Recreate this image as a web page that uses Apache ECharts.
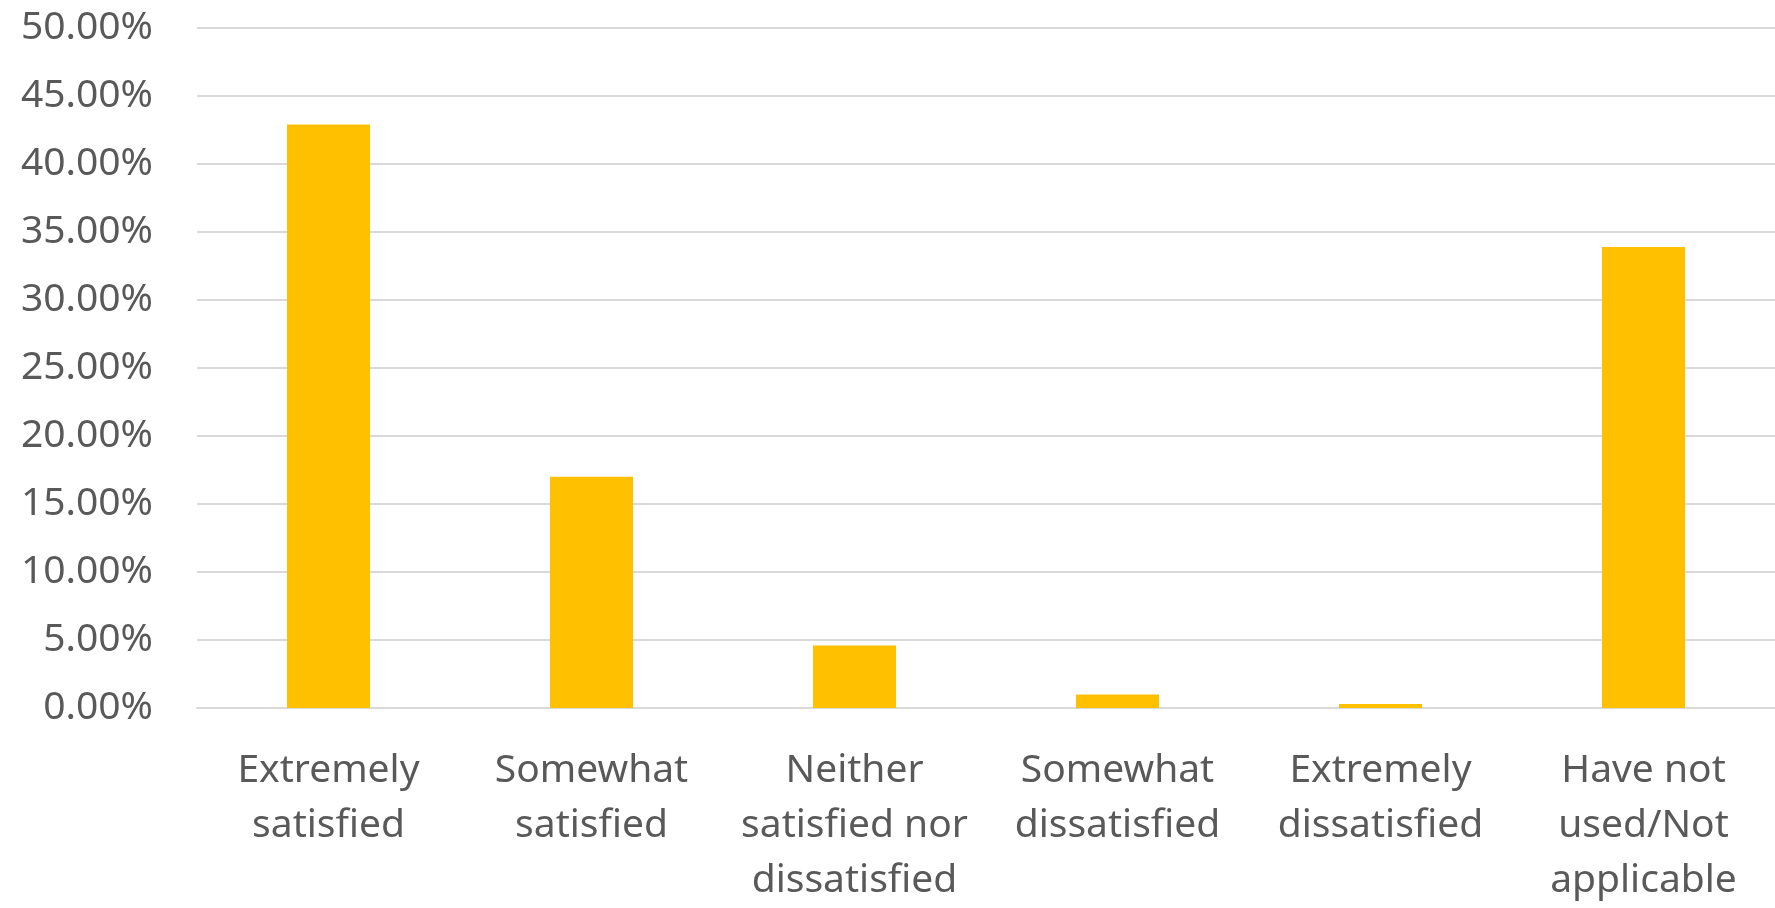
<!DOCTYPE html>
<html>
<head>
<meta charset="utf-8">
<script src="https://cdn.jsdelivr.net/npm/echarts@6/dist/echarts.min.js"></script>
<style>
html,body{margin:0;padding:0;background:#fff;}
#chart{width:1775px;height:908px;}
</style>
</head>
<body>
<div id="chart"></div>
<script>
const categories = [
  "Extremely\nsatisfied",
  "Somewhat\nsatisfied",
  "Neither\nsatisfied nor\ndissatisfied",
  "Somewhat\ndissatisfied",
  "Extremely\ndissatisfied",
  "Have not\nused/Not\napplicable"
];
const values = [42.9, 17.0, 4.6, 1.0, 0.3, 33.9];
const yMin = 0, yMax = 50, yStep = 5;

const chart = echarts.init(document.getElementById('chart'));
chart.setOption({
  animation: false,
  textStyle: { fontFamily: 'Noto Sans' },
  grid: { left: 197, right: 0, top: 28, bottom: 192, containLabel: false },
  xAxis: {
    type: 'category',
    data: categories,
    axisLine: { show: true, lineStyle: { color: '#D9D9D9', width: 2 } },
    axisTick: { show: false },
    axisLabel: { color: '#595959', fontSize: 39, lineHeight: 55, margin: 35, interval: 0, fontFamily: 'Noto Sans' }
  },
  yAxis: {
    type: 'value',
    min: yMin, max: yMax, interval: yStep,
    axisLine: { show: false },
    axisTick: { show: false },
    splitLine: { lineStyle: { color: '#D9D9D9', width: 2 } },
    axisLabel: { color: '#595959', fontSize: 39, margin: 44, formatter: v => v.toFixed(2) + '%', fontFamily: 'Noto Sans' }
  },
  series: [{
    type: 'bar',
    data: values,
    barWidth: 83,
    itemStyle: { color: '#FFC000' }
  }]
});
</script>
</body>
</html>
